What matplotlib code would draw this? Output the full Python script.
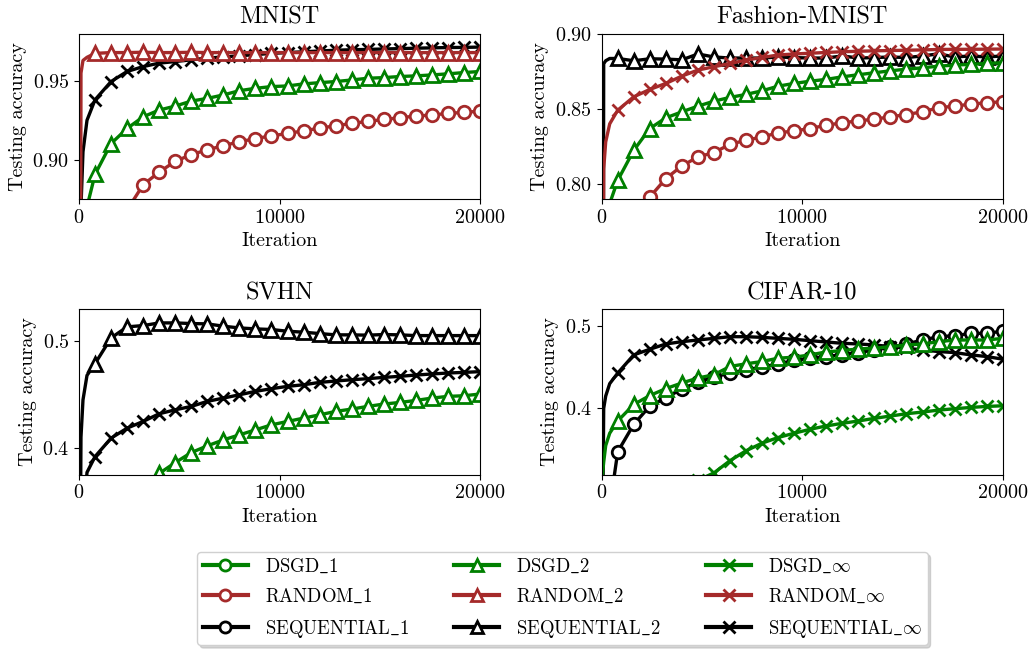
import numpy as np
import matplotlib
matplotlib.use('Agg')
import matplotlib.pyplot as plt
from matplotlib.lines import Line2D

plt.rcParams['font.family'] = 'serif'
plt.rcParams['font.serif'] = ['cmr10']
plt.rcParams['mathtext.fontset'] = 'cm'
plt.rcParams['axes.formatter.use_mathtext'] = True

# iteration grid (markers are drawn from 800 on)
ITERS = [0, 100, 200, 400, 800, 1600, 2400, 3200, 4000, 4800, 5600, 6400, 7200, 8000,
         8800, 9600, 10400, 11200, 12000, 12800, 13600, 14400, 15200, 16000, 16800,
         17600, 18400, 19200, 20000]

# MNIST
mnist_seq_inf = [0.10, 0.87, 0.905, 0.925, 0.938, 0.9496, 0.956, 0.9591, 0.9613, 0.9623,
                 0.9634, 0.9645, 0.9652, 0.966, 0.9667, 0.9675, 0.968, 0.9685, 0.969, 0.9695,
                 0.9698, 0.970, 0.9703, 0.9705, 0.9708, 0.971, 0.9712, 0.9713, 0.9715]
mnist_dsgd_2 = [0.10, 0.60, 0.78, 0.870, 0.8906, 0.9102, 0.9198, 0.9272, 0.9315, 0.934,
                0.9372, 0.9389, 0.9411, 0.9438, 0.9453, 0.9464, 0.9468, 0.9481, 0.9489, 0.9496,
                0.9506, 0.9517, 0.9521, 0.9528, 0.9532, 0.9538, 0.9545, 0.9553, 0.956]
mnist_random_1 = [0.10, 0.30, 0.45, 0.60, 0.75, 0.83, 0.868, 0.884, 0.8921, 0.8989,
                  0.9032, 0.9062, 0.9089, 0.9113, 0.9134, 0.9151, 0.9166, 0.9183, 0.92, 0.9215,
                  0.923, 0.9243, 0.9255, 0.9266, 0.9277, 0.9283, 0.9294, 0.93, 0.9308]
mnist_random_2 = [0.10, 0.955, 0.963, 0.965, 0.9675, 0.968, 0.968, 0.9682, 0.968, 0.968,
                  0.9682, 0.968, 0.968, 0.968, 0.968, 0.968, 0.968, 0.968, 0.968, 0.968,
                  0.968, 0.968, 0.968, 0.968, 0.968, 0.968, 0.968, 0.968, 0.968]

# Fashion-MNIST
fashion_seq_2 = [0.10, 0.880, 0.882, 0.8835, 0.8835, 0.882, 0.8833, 0.8831, 0.8826, 0.8865,
                 0.8845, 0.8838, 0.8838, 0.8838, 0.8845, 0.8841, 0.8838, 0.8838, 0.8852, 0.8838,
                 0.8841, 0.8845, 0.8841, 0.8852, 0.8866, 0.8845, 0.8852, 0.8845, 0.8852]
fashion_dsgd_2 = [0.10, 0.60, 0.72, 0.787, 0.8024, 0.8224, 0.8369, 0.844, 0.848, 0.8518,
                  0.8551, 0.8576, 0.8596, 0.862, 0.8651, 0.8669, 0.8684, 0.8696, 0.8713, 0.8727,
                  0.874, 0.8753, 0.8764, 0.8773, 0.8784, 0.8791, 0.8796, 0.8802, 0.8807]
fashion_random_1 = [0.10, 0.30, 0.45, 0.60, 0.70, 0.765, 0.7913, 0.8036, 0.812, 0.818,
                    0.8209, 0.8264, 0.8291, 0.8313, 0.834, 0.8353, 0.8369, 0.8391, 0.8407, 0.842,
                    0.8431, 0.8447, 0.8462, 0.848, 0.8507, 0.8518, 0.8531, 0.854, 0.8547]
fashion_random_inf = [0.10, 0.81, 0.828, 0.840, 0.8491, 0.858, 0.8629, 0.8669, 0.8718, 0.8758,
                      0.878, 0.8802, 0.8824, 0.8842, 0.8858, 0.8865, 0.887, 0.8875, 0.888, 0.8883,
                      0.8886, 0.8888, 0.889, 0.8892, 0.8895, 0.8896, 0.8896, 0.8897, 0.8898]

# SVHN
svhn_seq_2 = [0.10, 0.41, 0.445, 0.468, 0.479, 0.5031, 0.5135, 0.5147, 0.5172, 0.5172,
              0.5166, 0.5163, 0.5141, 0.5125, 0.5116, 0.511, 0.5094, 0.5085, 0.5072, 0.506,
              0.506, 0.5057, 0.5063, 0.506, 0.5053, 0.5053, 0.5053, 0.5053, 0.5053]
svhn_seq_inf = [0.10, 0.25, 0.33, 0.377, 0.3918, 0.4091, 0.4185, 0.4248, 0.432, 0.4357,
                0.4389, 0.4436, 0.4467, 0.4498, 0.453, 0.4555, 0.4577, 0.4592, 0.4614, 0.4627,
                0.4639, 0.4649, 0.4661, 0.4671, 0.4683, 0.4693, 0.4702, 0.4708, 0.4715]
svhn_dsgd_2 = [0.10, 0.15, 0.20, 0.25, 0.29, 0.32, 0.34, 0.358, 0.376, 0.3862,
               0.3956, 0.4019, 0.4075, 0.4122, 0.4169, 0.4216, 0.4248, 0.4279, 0.431, 0.4342,
               0.4364, 0.4389, 0.4411, 0.4426, 0.4445, 0.4467, 0.4483, 0.4489, 0.4505]

# CIFAR-10
cifar_seq_1 = [0.10, 0.15, 0.20, 0.28, 0.3476, 0.3808, 0.4028, 0.4128, 0.4236, 0.4316,
               0.438, 0.4428, 0.4468, 0.45, 0.454, 0.458, 0.4608, 0.4628, 0.4652, 0.4676,
               0.4708, 0.474, 0.478, 0.4828, 0.4868, 0.488, 0.4908, 0.4908, 0.4936]
cifar_seq_inf = [0.10, 0.40, 0.415, 0.43, 0.4428, 0.4648, 0.4716, 0.478, 0.4808, 0.4828,
                 0.4848, 0.4868, 0.4868, 0.486, 0.4848, 0.4836, 0.482, 0.4804, 0.4788, 0.478,
                 0.4768, 0.4748, 0.4728, 0.4708, 0.4688, 0.4676, 0.4648, 0.4628, 0.4596]
cifar_dsgd_2 = [0.31, 0.335, 0.355, 0.37, 0.3848, 0.4048, 0.4156, 0.424, 0.4308, 0.4368,
                0.4408, 0.4508, 0.454, 0.4568, 0.4608, 0.462, 0.4648, 0.4684, 0.47, 0.472,
                0.4728, 0.4748, 0.4768, 0.478, 0.4808, 0.4828, 0.4828, 0.4828, 0.4848]
cifar_dsgd_inf = [0.10, 0.12, 0.14, 0.17, 0.20, 0.24, 0.27, 0.29, 0.303, 0.313,
                  0.322, 0.3368, 0.3488, 0.358, 0.3648, 0.37, 0.3748, 0.3788, 0.382, 0.3848,
                  0.388, 0.3908, 0.3936, 0.3956, 0.398, 0.3996, 0.4012, 0.4024, 0.4032]

COLORS = {'dsgd': 'green', 'random': 'brown', 'sequential': 'black'}
MARKERS = {'1': 'o', '2': '^', 'inf': 'x'}
MSIZE = {'o': 9, '^': 9.5, 'x': 9}

panels = [
    ('MNIST', (0.875, 0.98), [0.90, 0.95],
     [('sequential', 'inf', mnist_seq_inf), ('dsgd', '2', mnist_dsgd_2),
      ('random', '1', mnist_random_1), ('random', '2', mnist_random_2)]),
    ('Fashion-MNIST', (0.79, 0.90), [0.80, 0.85, 0.90],
     [('sequential', '2', fashion_seq_2), ('dsgd', '2', fashion_dsgd_2),
      ('random', '1', fashion_random_1), ('random', 'inf', fashion_random_inf)]),
    ('SVHN', (0.375, 0.53), [0.4, 0.5],
     [('sequential', '2', svhn_seq_2), ('sequential', 'inf', svhn_seq_inf),
      ('dsgd', '2', svhn_dsgd_2)]),
    ('CIFAR-10', (0.32, 0.52), [0.4, 0.5],
     [('sequential', '1', cifar_seq_1), ('sequential', 'inf', cifar_seq_inf),
      ('dsgd', '2', cifar_dsgd_2), ('dsgd', 'inf', cifar_dsgd_inf)]),
]

positions = [[0.0766, 0.6953, 0.389, 0.2531], [0.5836, 0.6953, 0.389, 0.2531],
             [0.0766, 0.2733, 0.389, 0.2531], [0.5836, 0.2733, 0.389, 0.2531]]

fig = plt.figure(figsize=(10.31, 6.53), dpi=100)
marks = list(range(4, len(ITERS)))

for pos, (title, ylim, yticks, series) in zip(positions, panels):
    ax = fig.add_axes(pos)
    for alg, k, vals in series:
        m = MARKERS[k]
        ax.plot(ITERS, vals, color=COLORS[alg], lw=2.4, marker=m, ms=MSIZE[m],
                mfc='white', mec=COLORS[alg], mew=2, markevery=marks)
    ax.set_xlim(0, 20000)
    ax.set_ylim(*ylim)
    ax.set_xticks([0, 10000, 20000])
    ax.set_yticks(yticks)
    ax.tick_params(labelsize=14.5)
    ax.set_title(title, fontsize=17.5, pad=7)
    ax.set_xlabel('Iteration', fontsize=14.5, labelpad=4)
    ax.set_ylabel('Testing accuracy', fontsize=14.5, labelpad=4)

handles = []
labels = []
for k, sub in [('1', '1'), ('2', '2'), ('inf', r'\infty')]:
    for alg in ['dsgd', 'random', 'sequential']:
        handles.append(Line2D([], [], color=COLORS[alg], lw=3, marker=MARKERS[k],
                              ms=8, mfc='white', mec=COLORS[alg], mew=2))
        labels.append(r'$\mathrm{%s}\_%s$' % (alg.upper(), sub))

fig.legend(handles, labels, ncol=3, loc='upper center', bbox_to_anchor=(0.5456, 0.1547),
           fontsize=13.5, handlelength=2.4, handletextpad=0.9, columnspacing=2.4,
           labelspacing=0.62, borderpad=0.3, borderaxespad=0,
           frameon=True, fancybox=True, shadow={'color': '#b0b0b0'},
           edgecolor='#d0d0d0', framealpha=1)

fig.savefig('out.png', dpi=100)
